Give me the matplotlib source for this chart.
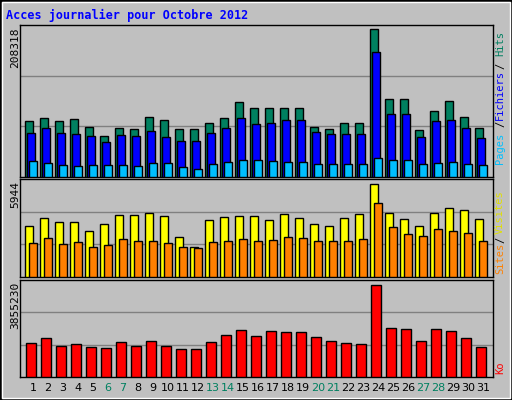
import matplotlib
matplotlib.use("Agg")
import matplotlib.pyplot as plt
from matplotlib.patches import Rectangle

days = list(range(1, 32))
day_labels = [str(d) for d in days]
weekend_days = [6, 7, 13, 14, 20, 21, 27, 28]
hits = [79400,83600,79400,82200,70900,58100,69400,68000,85000,80800,68000,68000,76500,83600,104900,97800,
        97800,97800,97800,70900,68000,76500,76500,208318,110500,110500,66600,93500,106300,85000,69400]
files = [62300,69400,62300,60900,58100,49600,59500,58100,65200,56700,51000,51000,62300,69400,83600,75100,
         76500,80800,80800,63800,60900,60900,60900,175700,89300,89300,56700,79400,80800,69400,55300]
pages = [22700,19800,17000,15600,17000,17000,17000,15600,19800,19800,14200,11300,18400,21300,24100,24100,
         22700,21300,21300,18400,18400,18400,18400,26900,24100,24100,18400,19800,21300,18400,17000]
visits = [3230,3750,3490,3490,2970,3360,3940,3940,4070,3880,2580,1940,3620,3810,3880,3880,3620,4010,3750,
          3420,3230,3750,4010,5944,4070,3680,3290,4070,4390,4260,3680]
sites = [2200,2520,2130,2260,1940,2070,2450,2330,2330,2200,1940,1870,2260,2330,2450,2330,2390,2580,2520,
         2330,2330,2330,2450,4720,3170,2780,2650,3040,2970,2840,2330]
ko = [1398000,1610000,1313000,1356000,1271000,1229000,1440000,1313000,1483000,1313000,1186000,1186000,
      1440000,1737000,1949000,1695000,1906000,1864000,1864000,1652000,1483000,1398000,1356000,3855230,
      2034000,1991000,1483000,1991000,1906000,1610000,1271000]

BG = "#c0c0c0"
W, H = 512, 400
fig = plt.figure(figsize=(5.12, 4.0), dpi=100, facecolor=BG)
MONO = "DejaVu Sans Mono"

def ax_at(x0, y0, x1, y1):
    return fig.add_axes([x0 / W, 1 - y1 / H, (x1 - x0) / W, (y1 - y0) / H])

# frame
fig.patches.append(Rectangle((0, 0), 1, 1, transform=fig.transFigure, fill=False,
                             edgecolor="black", lw=2))
fig.patches.append(Rectangle((2 / W, 2 / H), 1 - 4 / W, 1 - 4 / H, transform=fig.transFigure,
                             fill=False, edgecolor="white", lw=1))

fig.text(6 / W, 1 - 15 / H, "Acces journalier pour Octobre 2012", color="#0000ff",
         fontsize=8.5, fontweight="bold", family=MONO, va="center", ha="left")

panels = [(25, 177), (179, 277), (280, 377)]
axes = []
for (y0, y1) in panels:
    ax = ax_at(20, y0, 493, y1)
    ax.set_facecolor(BG)
    ax.set_xlim(0.13, 31.67)
    ax.set_xticks([]); ax.set_yticks([])
    for s in ax.spines.values():
        s.set_color("black"); s.set_linewidth(1)
    axes.append(ax)

ekw = dict(edgecolor="black", linewidth=1, align="edge", zorder=3)
a1, a2, a3 = axes
# top
top1 = max(hits) * 151 / 147
a1.set_ylim(0, top1)
a1.bar([d - 0.53 for d in days], hits, 0.53, color="#008060", **ekw)
a1.bar([d - 0.40 for d in days], files, 0.53, color="#0000ff", **ekw)
a1.bar([d - 0.27 for d in days], pages, 0.53, color="#00bfff", **ekw)
# mid
top2 = max(visits) * 97 / 92
a2.set_ylim(0, top2)
a2.bar([d - 0.53 for d in days], visits, 0.53, color="#ffff00", **ekw)
a2.bar([d - 0.27 for d in days], sites, 0.53, color="#ff8000", **ekw)
# bottom
top3 = max(ko) * 95.5 / 91
a3.set_ylim(0, top3)
a3.bar([d - 0.47 for d in days], ko, 0.67, color="#ff0000", **ekw)

for ax, top in zip(axes, [top1, top2, top3]):
    for f in (1 / 3, 2 / 3):
        ax.axhline(top * f, color="#808080", lw=1, zorder=1)

# left max labels
for (y0, y1), v in zip(panels, [max(hits), max(visits), max(ko)]):
    fig.text(15 / W, 1 - (y0 + 2) / H, str(v), rotation=90, ha="center", va="top",
             fontsize=8, family=MONO, color="black")

# right labels
def rtext(s, y, c):
    fig.text(500 / W, 1 - y / H, s, rotation=90, ha="center", va="center",
             fontsize=7.5, family=MONO, color=c)

rtext("Hits", 44, "#008060"); rtext("/", 66, "black"); rtext("Fichiers", 95, "#0000ff")
rtext("/", 124, "black"); rtext("Pages", 148, "#00bfff")
rtext("Visites", 212, "#e0e000"); rtext("/", 240, "black"); rtext("Sites", 258, "#ff8000")
rtext("Ko", 368, "#ff0000")

# day labels
for d, lab in zip(days, day_labels):
    x = 33 + 15 * (d - 1)
    c = "#008060" if d in weekend_days else "black"
    fig.text(x / W, 1 - 388 / H, lab, ha="center", va="center", fontsize=8, color=c)

fig.savefig("out.png", dpi=100, facecolor=BG)
